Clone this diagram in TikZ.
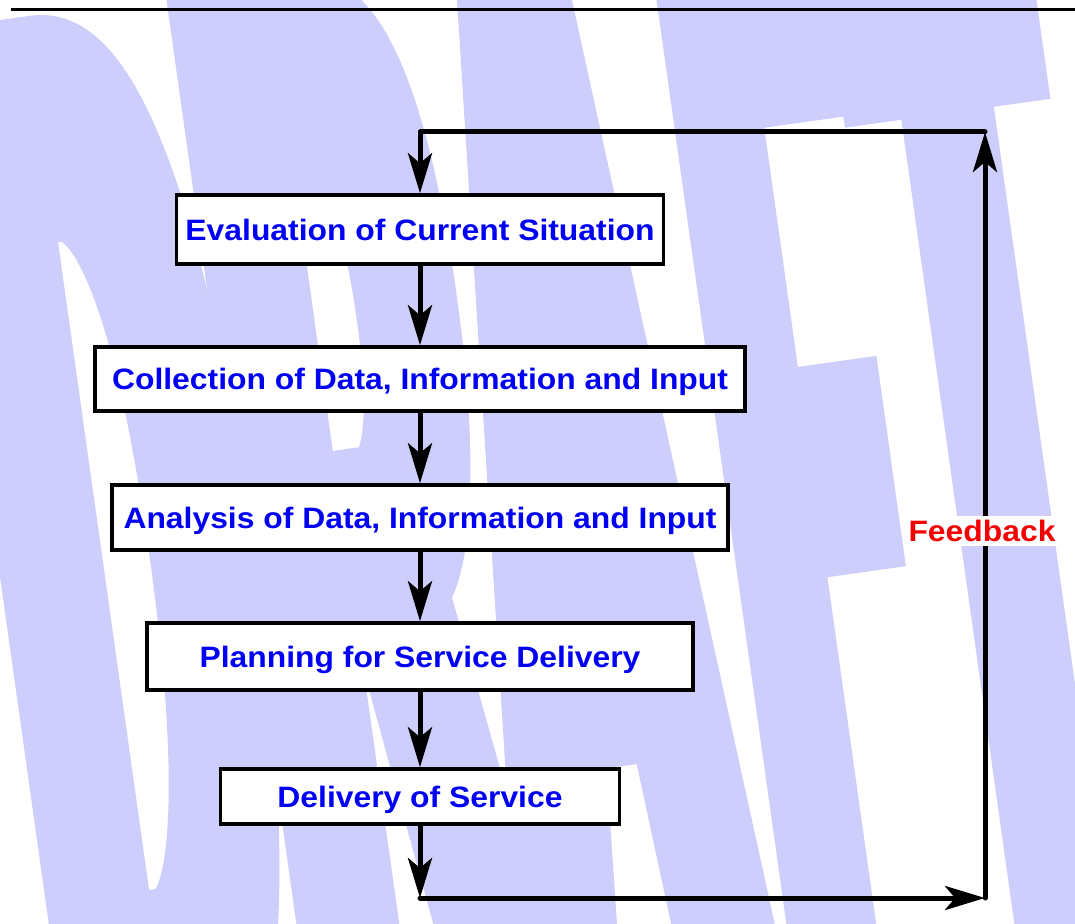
\documentclass[tikz,border=0pt]{standalone}
\usepackage{fontspec}
\usetikzlibrary{arrows.meta}
\setmainfont{Liberation Sans}
\newfontfamily\boxfont{Liberation Sans}[FakeStretch=1.08]
\newfontfamily\wmfont{Liberation Sans}[FakeStretch=0.2107,FakeBold=3.75]
\newfontfamily\wmfontF{Liberation Sans}[FakeStretch=0.1608,FakeBold=4.02]
\newfontfamily\wmfontT{Liberation Sans}[FakeStretch=0.171,FakeBold=3.75]
\definecolor{wm}{RGB}{206,206,252}
\definecolor{txtblue}{RGB}{0,0,245}
\definecolor{fbred}{RGB}{245,0,0}
\begin{document}
\begin{tikzpicture}[x=0.5pt,y=-0.5pt,
  box/.style={draw=black,line width=1.75pt,fill=white,inner sep=0pt,text=txtblue,text depth=0pt,
    font=\boxfont\bfseries\fontsize{14.75}{16}\selectfont},
  wml/.style={anchor=north west,rotate=8,inner sep=0pt,text=wm},
  conn/.style={line width=2.5pt,line cap=round,line join=round},
  arr/.style={conn,-{Stealth[length=20pt,width=12pt,inset=5pt]}}]
\useasboundingbox (0,0) rectangle (1075,924);
\fill[white] (0,0) rectangle (1075,924);
\node[wml,font=\wmfont\bfseries\fontsize{765}{765}\selectfont] (wD) at (-66,58) {D};
\node[wml,font=\wmfont\bfseries\fontsize{750}{750}\selectfont] (wR) at (176.6,23.9) {R};
\node[wml,font=\wmfont\bfseries\fontsize{750}{750}\selectfont] (wA) at (397.3,-7.1) {A};
\node[wml,font=\wmfontF\bfseries\fontsize{700}{700}\selectfont] (wF) at (663.2,-44.4) {F};
\node[wml,font=\wmfontT\bfseries\fontsize{750}{750}\selectfont] (wT) at (842.4,-69.5) {T};
\coordinate (r1) at (11,10);
\coordinate (r2) at (1075,10);
\draw[line width=1.5pt] (r1) -- (r2);
\node[box,minimum width=243.5pt,minimum height=34.5pt] (b1) at (420,229.5) {Evaluation of Current Situation};
\node[box,minimum width=325pt,minimum height=32pt] (b2) at (420,379) {Collection of Data, Information and Input};
\node[box,minimum width=308pt,minimum height=32.5pt] (b3) at (420,517.5) {Analysis of Data, Information and Input};
\node[box,minimum width=273pt,minimum height=33.5pt] (b4) at (420,656.5) {Planning for Service Delivery};
\node[box,minimum width=199.5pt,minimum height=27.5pt] (b5) at (420,796.5) {Delivery of Service};
\coordinate (c1) at (420,898);
\coordinate (c2) at (985,898);
\coordinate (c3) at (985,132);
\coordinate (c4) at (420,132);
\draw[arr] (b1.south) -- (b2.north);
\draw[arr] (b2.south) -- (b3.north);
\draw[arr] (b3.south) -- (b4.north);
\draw[arr] (b4.south) -- (b5.north);
\draw[arr] (b5.south) -- (c1);
\draw[arr] (c1) -- (c2);
\draw[arr] (c2) -- (c3);
\draw[arr] (c3) -- (c4) -- (b1.north);
\node[fill=white,text=fbred,inner sep=2pt,text depth=0pt,font=\boxfont\bfseries\fontsize{14.75}{16}\selectfont] (fb) at (982,531) {Feedback};
\end{tikzpicture}
\end{document}
